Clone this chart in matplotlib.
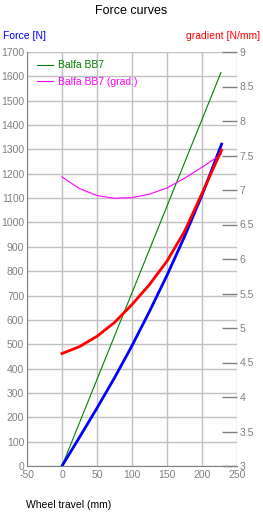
import matplotlib
matplotlib.use("Agg")
import matplotlib.pyplot as plt

plt.rcParams['font.family'] = ['Liberation Sans', 'DejaVu Sans']
plt.rcParams['axes.unicode_minus'] = False

# wheel travel (mm)
travel = [0, 25, 50, 75, 100, 125, 150, 175, 200, 228]
# measured force (left axis) and its gradient (right axis)
force = [0, 118, 238, 362, 494, 635, 783, 942, 1112, 1322]
gradient = [4.63, 4.73, 4.88, 5.08, 5.34, 5.63, 5.97, 6.40, 6.95, 7.58]
# Balfa BB7 reference
bb7_travel = [0, 227]
bb7_force = [0, 1615]
bb7_grad = [7.19, 7.02, 6.92, 6.88, 6.89, 6.94, 7.03, 7.17, 7.33, 7.52]

x_ticks = [-50, 0, 50, 100, 150, 200, 250]
y_ticks = list(range(0, 1701, 100))
y2_ticks = [3, 3.5, 4, 4.5, 5, 5.5, 6, 6.5, 7, 7.5, 8, 8.5, 9]

gray = '#808080'
grid = '#c0c0c0'

fig = plt.figure(figsize=(2.63, 5.14), dpi=100)
ax = fig.add_axes([27 / 263, 48 / 514, 210 / 263, 414 / 514])
ax2 = ax.twinx()

ax.set_xlim(-50, 250)
ax.set_ylim(0, 1700)
ax2.set_ylim(3, 9)
ax.set_xticks(x_ticks)
ax.set_yticks(y_ticks)
ax2.set_yticks(y2_ticks)
ax2.set_yticklabels([('%g' % v) for v in y2_ticks])

ax.grid(True, color=grid, linewidth=1)
for a in (ax, ax2):
    for s in a.spines.values():
        s.set_visible(False)
ax.spines['left'].set_visible(True)
ax.spines['left'].set_color(gray)
ax.spines['bottom'].set_visible(True)
ax.spines['bottom'].set_color(gray)

ax.tick_params(axis='both', length=0, colors=gray, labelsize=7.5, pad=3)
ax.tick_params(axis='y', pad=2)
ax2.tick_params(axis='y', direction='in', length=11, width=1, colors=gray,
                labelsize=7.5, pad=2)

g, = ax.plot(bb7_travel, bb7_force, color='#008000', linewidth=0.8,
             label='Balfa BB7')
ax.plot(travel, force, color='#0000ff', linewidth=2)
m, = ax2.plot(travel, bb7_grad, color='#ff00ff', linewidth=0.8,
              label='Balfa BB7 (grad.)')
ax2.plot(travel, gradient, color='#ff0000', linewidth=2)

leg = ax2.legend(handles=[g, m], loc='upper left', bbox_to_anchor=(0.03, 0.99),
                 frameon=False, fontsize=7.5, handlelength=1.5,
                 handletextpad=0.5, labelspacing=0.6, borderaxespad=0)
for t, c in zip(leg.get_texts(), ['#008000', '#ff00ff']):
    t.set_color(c)

fig.text(0.5, 1 - 11 / 514, 'Force curves', ha='center', va='center',
         fontsize=9, color='black')
fig.text(3 / 263, 1 - 36 / 514, 'Force [N]', ha='left', va='center',
         fontsize=7.5, color='#0000ff')
fig.text(260 / 263, 1 - 36 / 514, 'gradient [N/mm]', ha='right', va='center',
         fontsize=7.5, color='#ff0000')
fig.text(26 / 263, 1 - 505 / 514, 'Wheel travel (mm)', ha='left',
         va='center', fontsize=7.5, color='black')

fig.savefig('out.png', dpi=100)
